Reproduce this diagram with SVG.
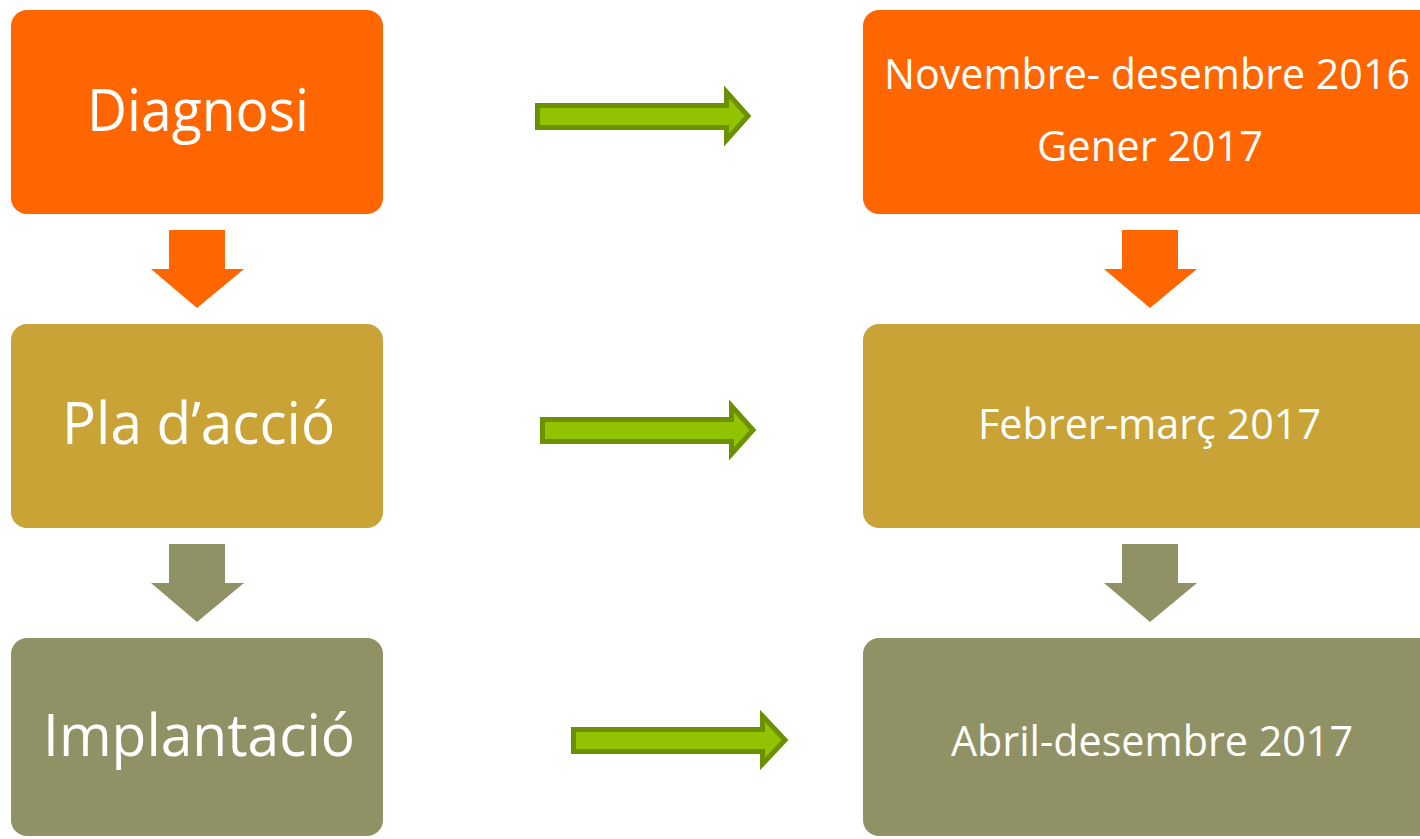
<svg xmlns="http://www.w3.org/2000/svg" width="1420" height="839" viewBox="0 0 1420 839">
<style>
.o{fill:#FF6600}.g{fill:#C9A336}.v{fill:#919166}
.t{fill:#fff;font-family:"Open Sans","Liberation Sans",sans-serif}
.L{font-size:58px}.R{font-size:42px}
.ga{fill:#92C300;stroke:#6B9000;stroke-width:5;stroke-linejoin:miter}
</style>
<rect width="1420" height="839" fill="#fff"/>
<g id="n-diagnosi"><rect class="o" x="11" y="10" width="372" height="204" rx="16"/><text class="t L" x="87" y="131" textLength="222" lengthAdjust="spacingAndGlyphs">Diagnosi</text></g>
<g id="n-pla"><rect class="g" x="11" y="324" width="372" height="204" rx="16"/><text class="t L" x="62" y="444" textLength="273" lengthAdjust="spacingAndGlyphs">Pla d’acció</text></g>
<g id="n-impl"><rect class="v" x="11" y="638" width="372" height="198" rx="16"/><text class="t L" x="43" y="756" textLength="312" lengthAdjust="spacingAndGlyphs">Implantació</text></g>
<g id="n-nov"><rect class="o" x="863" y="10" width="580" height="204" rx="16"/><text class="t R" x="884" y="89" textLength="526" lengthAdjust="spacingAndGlyphs">Novembre- desembre 2016</text><text class="t R" x="1037" y="161" textLength="226" lengthAdjust="spacingAndGlyphs">Gener 2017</text></g>
<g id="n-feb"><rect class="g" x="863" y="324" width="580" height="204" rx="16"/><text class="t R" x="978" y="439" textLength="343" lengthAdjust="spacingAndGlyphs">Febrer-març 2017</text></g>
<g id="n-abr"><rect class="v" x="863" y="638" width="580" height="198" rx="16"/><text class="t R" x="951" y="756" textLength="402" lengthAdjust="spacingAndGlyphs">Abril-desembre 2017</text></g>
<g id="connectors">
<polygon class="o" points="169,230 225,230 225,269 244,269 197,308 151,269 169,269"/>
<polygon class="o" points="1122,230 1178,230 1178,269 1197,269 1150,308 1104,269 1122,269"/>
<polygon class="v" points="169,544 225,544 225,583 244,583 197,622 151,583 169,583"/>
<polygon class="v" points="1122,544 1178,544 1178,583 1197,583 1150,622 1104,583 1122,583"/>
<polygon class="ga" points="537.5,105.5 726.5,105.5 726.5,92 748,116 726.5,140 726.5,127.5 537.5,127.5"/>
<polygon class="ga" points="542.5,419.5 731.5,419.5 731.5,406 753,430 731.5,454 731.5,441.5 542.5,441.5"/>
<polygon class="ga" points="573.5,729.5 762.5,729.5 762.5,716 785,740 762.5,764 762.5,751.5 573.5,751.5"/>
</g>
</svg>
